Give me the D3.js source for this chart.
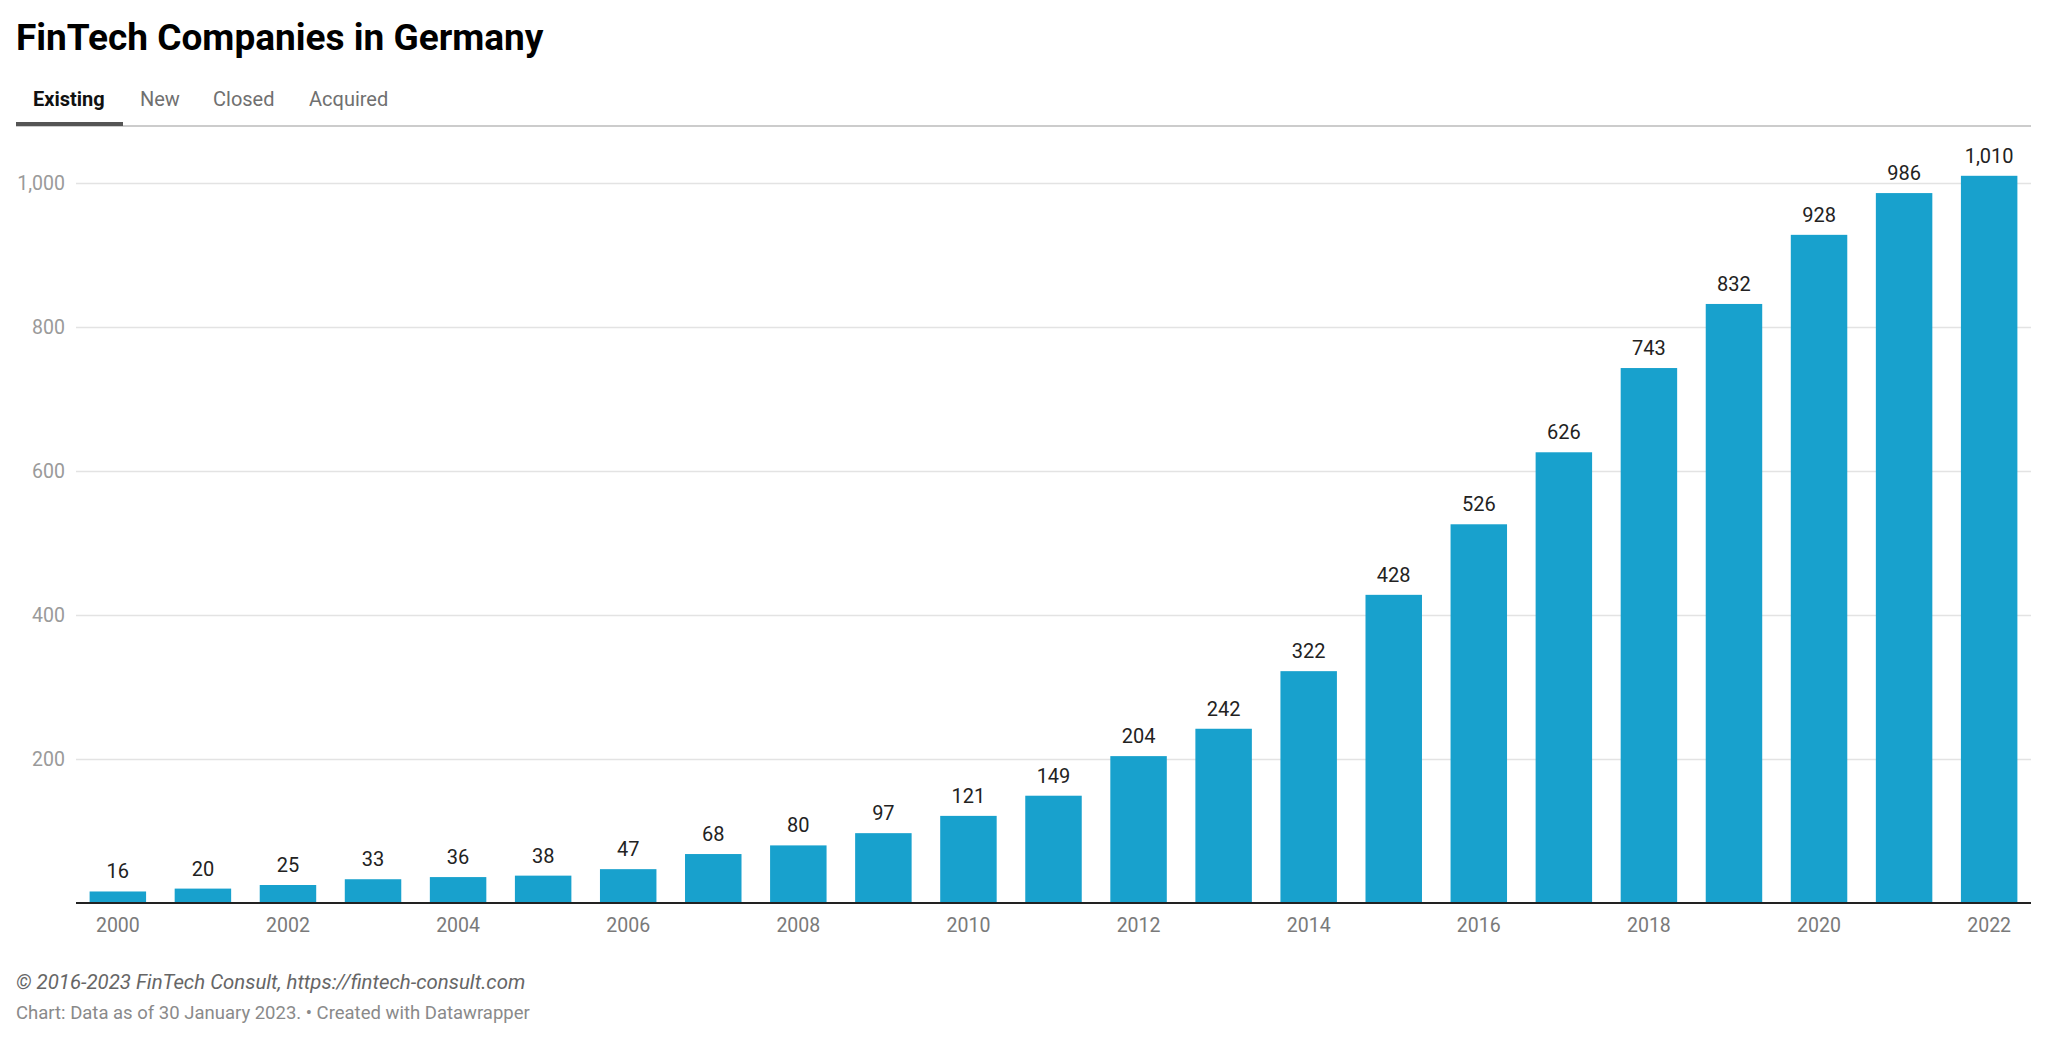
<!DOCTYPE html>
<html>
<head>
<meta charset="utf-8">
<title>FinTech Companies in Germany</title>
<script src="https://cdn.jsdelivr.net/npm/d3@7"></script>
<style>
  html, body { margin: 0; padding: 0; background: #fff; }
  svg { display: block; font-family: Roboto, "Noto Sans", sans-serif; }
</style>
</head>
<body>
<div id="diagram"></div>
<script>
// data
const years = ['2000', '2001', '2002', '2003', '2004', '2005', '2006', '2007', '2008', '2009', '2010',
  '2011', '2012', '2013', '2014', '2015', '2016', '2017', '2018', '2019', '2020', '2021', '2022'];
const existing = [16, 20, 25, 33, 36, 38, 47, 68, 80, 97, 121, 149, 204, 242, 322, 428, 526, 626, 743, 832, 928, 986, 1010];
const yTicks = [200, 400, 600, 800, 1000];
const xTickLabels = ['2000', '2002', '2004', '2006', '2008', '2010', '2012', '2014', '2016', '2018', '2020', '2022'];
const tabs = ['Existing', 'New', 'Closed', 'Acquired'];

!(function () {
  'use strict'
  let
    canvas = {
      width: 2048,
      height: 1041,
      padding: { top: 183, right: 17, bottom: 138, left: 76 }
    },
    svg = undefined,
    xScale = undefined,
    yScale = undefined,
    fmt = d3.format(',');

  svg = d3.select('#diagram')
    .append('svg')
    .attr('width', canvas.width)
    .attr('height', canvas.height);

  // header
  svg.append('text')
    .attr('x', 16)
    .attr('y', 50)
    .attr('font-size', 37)
    .attr('font-weight', 700)
    .attr('fill', '#000')
    .text('FinTech Companies in Germany');

  let tabX = [33, 140, 213, 309];
  svg.selectAll('text.tab')
    .data(tabs)
    .enter()
    .append('text')
    .attr('class', 'tab')
    .attr('x', (d, i) => tabX[i])
    .attr('y', 106)
    .attr('font-size', 20)
    .attr('font-weight', (d, i) => i === 0 ? 700 : 400)
    .attr('fill', (d, i) => i === 0 ? '#111' : '#707070')
    .text(d => d);

  svg.append('line')
    .attr('x1', 16).attr('x2', 2031)
    .attr('y1', 126).attr('y2', 126)
    .attr('stroke', '#cccccc')
    .attr('stroke-width', 2);

  svg.append('rect')
    .attr('x', 16).attr('y', 122)
    .attr('width', 107).attr('height', 4)
    .attr('fill', '#555');

  // scales
  xScale = d3.scaleBand()
    .domain(years)
    .range([canvas.padding.left, canvas.width - canvas.padding.right])
    .paddingInner(0.336)
    .paddingOuter(0.16);

  yScale = d3.scaleLinear()
    .domain([0, 1000])
    .range([canvas.height - canvas.padding.bottom, canvas.padding.top]);

  // grid + y labels
  let yAxis = d3.axisLeft(yScale)
    .tickValues(yTicks)
    .tickFormat(fmt)
    .tickSize(-(canvas.width - canvas.padding.right - canvas.padding.left))
    .tickPadding(11);

  let gy = svg.append('g')
    .attr('transform', 'translate(' + canvas.padding.left + ',0)')
    .call(yAxis);
  gy.select('.domain').remove();
  gy.selectAll('.tick line').attr('stroke', '#e3e3e3').attr('stroke-width', 1.5);
  gy.selectAll('.tick text')
    .attr('font-size', 19.5)
    .attr('font-family', 'Roboto, sans-serif')
    .attr('fill', '#9a9a9a');

  // bars
  svg.selectAll('rect.bar')
    .data(existing)
    .enter()
    .append('rect')
    .attr('class', 'bar')
    .attr('x', (d, i) => xScale(years[i]))
    .attr('y', d => yScale(d))
    .attr('width', xScale.bandwidth())
    .attr('height', d => yScale(0) - yScale(d))
    .attr('fill', '#18a1cd');

  // value labels
  svg.selectAll('text.val')
    .data(existing)
    .enter()
    .append('text')
    .attr('class', 'val')
    .attr('x', (d, i) => xScale(years[i]) + xScale.bandwidth() / 2)
    .attr('y', d => yScale(d) - 13)
    .attr('text-anchor', 'middle')
    .attr('font-size', 20)
    .attr('fill', '#222')
    .text(d => fmt(d));

  // x axis
  let xAxis = d3.axisBottom(xScale)
    .tickValues(xTickLabels)
    .tickSize(0)
    .tickPadding(15);

  let gx = svg.append('g')
    .attr('transform', 'translate(0,' + yScale(0) + ')')
    .call(xAxis);
  gx.select('.domain').remove();
  gx.selectAll('.tick text')
    .attr('font-size', 19.5)
    .attr('font-family', 'Roboto, sans-serif')
    .attr('fill', '#7a7a7a');

  svg.append('line')
    .attr('x1', canvas.padding.left).attr('x2', canvas.width - canvas.padding.right)
    .attr('y1', yScale(0)).attr('y2', yScale(0))
    .attr('stroke', '#222')
    .attr('stroke-width', 2);

  // footer
  svg.append('text')
    .attr('x', 16)
    .attr('y', 989)
    .attr('font-size', 20.4)
    .attr('font-style', 'italic')
    .attr('fill', '#666')
    .text('© 2016-2023 FinTech Consult, https://fintech-consult.com');

  svg.append('text')
    .attr('x', 16)
    .attr('y', 1019)
    .attr('font-size', 18.5)
    .attr('fill', '#8a8a8a')
    .text('Chart: Data as of 30 January 2023. • Created with Datawrapper');
}())
</script>
</body>
</html>
